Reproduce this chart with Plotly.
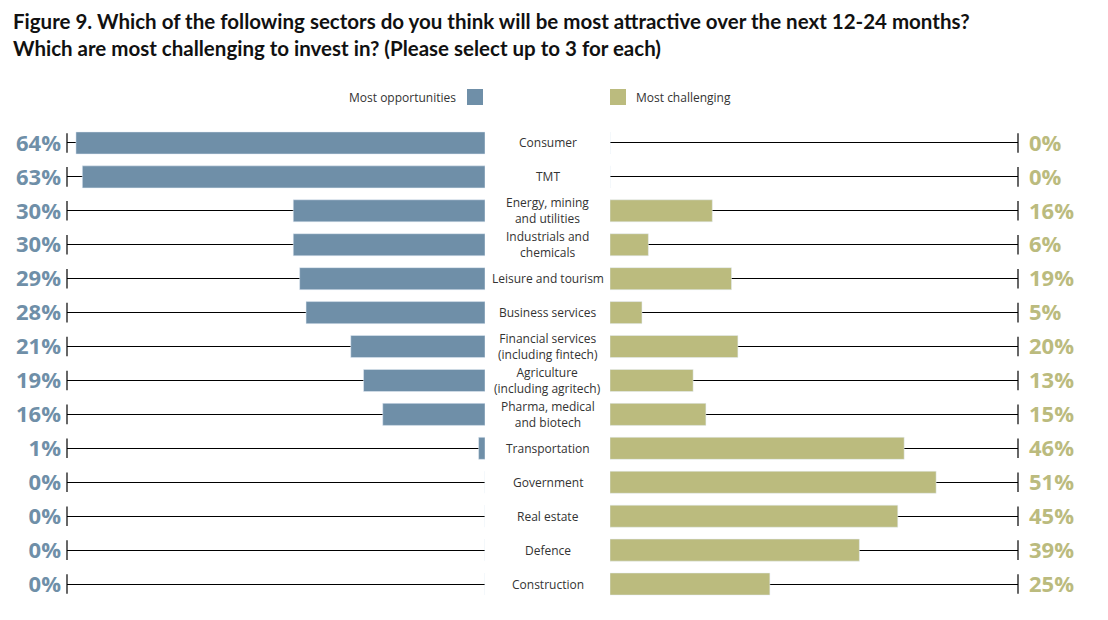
import plotly.graph_objects as go

categories = ["Consumer", "TMT", "Energy, mining<br>and utilities", "Industrials and<br>chemicals",
              "Leisure and tourism", "Business services", "Financial services<br>(including fintech)",
              "Agriculture<br>(including agritech)", "Pharma, medical<br>and biotech", "Transportation",
              "Government", "Real estate", "Defence", "Construction"]
opportunities = [64, 63, 30, 30, 29, 28, 21, 19, 16, 1, 0, 0, 0, 0]
challenging = [0, 0, 16, 6, 19, 5, 20, 13, 15, 46, 51, 45, 39, 25]
series_names = ["Most opportunities", "Most challenging"]

W, H = 1108, 620
BLUE = "#6f8fa8"
KHAKI = "#bbbb7e"
LEFT_MAX = 65.4
RIGHT_MAX = 63.8
FONT = "Open Sans"

ids = list(range(len(categories)))

fig = go.Figure()
fig.add_trace(go.Bar(x=opportunities, y=ids, orientation="h", marker_color=BLUE,
                     xaxis="x", yaxis="y", showlegend=False, name=series_names[0]))
fig.add_trace(go.Bar(x=challenging, y=ids, orientation="h", marker_color=KHAKI,
                     xaxis="x2", yaxis="y2", showlegend=False, name=series_names[1]))
# end caps
fig.add_trace(go.Scatter(x=[LEFT_MAX] * len(ids), y=ids, mode="markers", xaxis="x", yaxis="y",
                         marker=dict(symbol="line-ns", size=14, line=dict(width=1.2, color="black")),
                         showlegend=False, hoverinfo="skip", cliponaxis=False))
fig.add_trace(go.Scatter(x=[RIGHT_MAX] * len(ids), y=ids, mode="markers", xaxis="x2", yaxis="y2",
                         marker=dict(symbol="line-ns", size=14, line=dict(width=1.2, color="black")),
                         showlegend=False, hoverinfo="skip", cliponaxis=False))

ydom = [(H - 601) / H, (H - 126) / H]
common_y = dict(type="linear", range=[len(ids) - 0.5, -0.5], domain=ydom, tickmode="array",
                tickvals=ids, showgrid=True, gridcolor="black", gridwidth=1, zeroline=False,
                showline=False, ticks="")
fig.update_layout(
    width=W, height=H, margin=dict(l=0, r=0, t=0, b=0),
    paper_bgcolor="white", plot_bgcolor="white", bargap=0.35,
    xaxis=dict(domain=[67 / W, 485 / W], range=[LEFT_MAX, 0], visible=False, anchor="y"),
    xaxis2=dict(domain=[610 / W, 1018 / W], range=[0, RIGHT_MAX], visible=False, anchor="y2"),
    yaxis=dict(**common_y, anchor="x", side="left",
               ticktext=[f"{v}%" for v in opportunities], ticklabelstandoff=5,
               tickfont=dict(family=FONT, size=22, color=BLUE, weight="bold")),
    yaxis2=dict(**common_y, anchor="x2", side="right",
                ticktext=[f"{v}%" for v in challenging], ticklabelstandoff=10,
                tickfont=dict(family=FONT, size=22, color=KHAKI, weight="bold")),
    font=dict(family=FONT, color="#333333"),
)

annotations = []
for i, c in zip(ids, categories):
    annotations.append(dict(x=547.5 / W, xref="paper", y=i, yref="y", text=c, showarrow=False,
                            xanchor="center", yanchor="middle", align="center",
                            font=dict(family=FONT, size=12, color="#333333")))
annotations.append(dict(x=11 / W, xref="paper", y=1 - 7 / H, yref="paper", xanchor="left", yanchor="top",
                        align="left", showarrow=False,
                        text="<b>Figure 9. Which of the following sectors do you think will be most attractive over the next 12-24 months?<br>Which are most challenging to invest in? (Please select up to 3 for each)</b>",
                        font=dict(family="Lato", size=20.5, color="#111111")))
annotations.append(dict(x=458 / W, xref="paper", y=1 - 97 / H, yref="paper", xanchor="right", yanchor="middle",
                        showarrow=False, text=series_names[0], font=dict(family=FONT, size=12, color="#333333")))
annotations.append(dict(x=634 / W, xref="paper", y=1 - 97 / H, yref="paper", xanchor="left", yanchor="middle",
                        showarrow=False, text=series_names[1], font=dict(family=FONT, size=12, color="#333333")))
fig.update_layout(annotations=annotations)
fig.add_shape(type="rect", xref="paper", yref="paper", x0=467 / W, x1=483 / W, y0=1 - 105 / H, y1=1 - 89 / H,
              fillcolor=BLUE, line=dict(width=0))
fig.add_shape(type="rect", xref="paper", yref="paper", x0=610 / W, x1=626 / W, y0=1 - 105 / H, y1=1 - 89 / H,
              fillcolor=KHAKI, line=dict(width=0))

fig.write_html("out.html", config={"displayModeBar": False},
               post_script="document.body.style.margin='0';document.body.style.overflow='hidden';")
